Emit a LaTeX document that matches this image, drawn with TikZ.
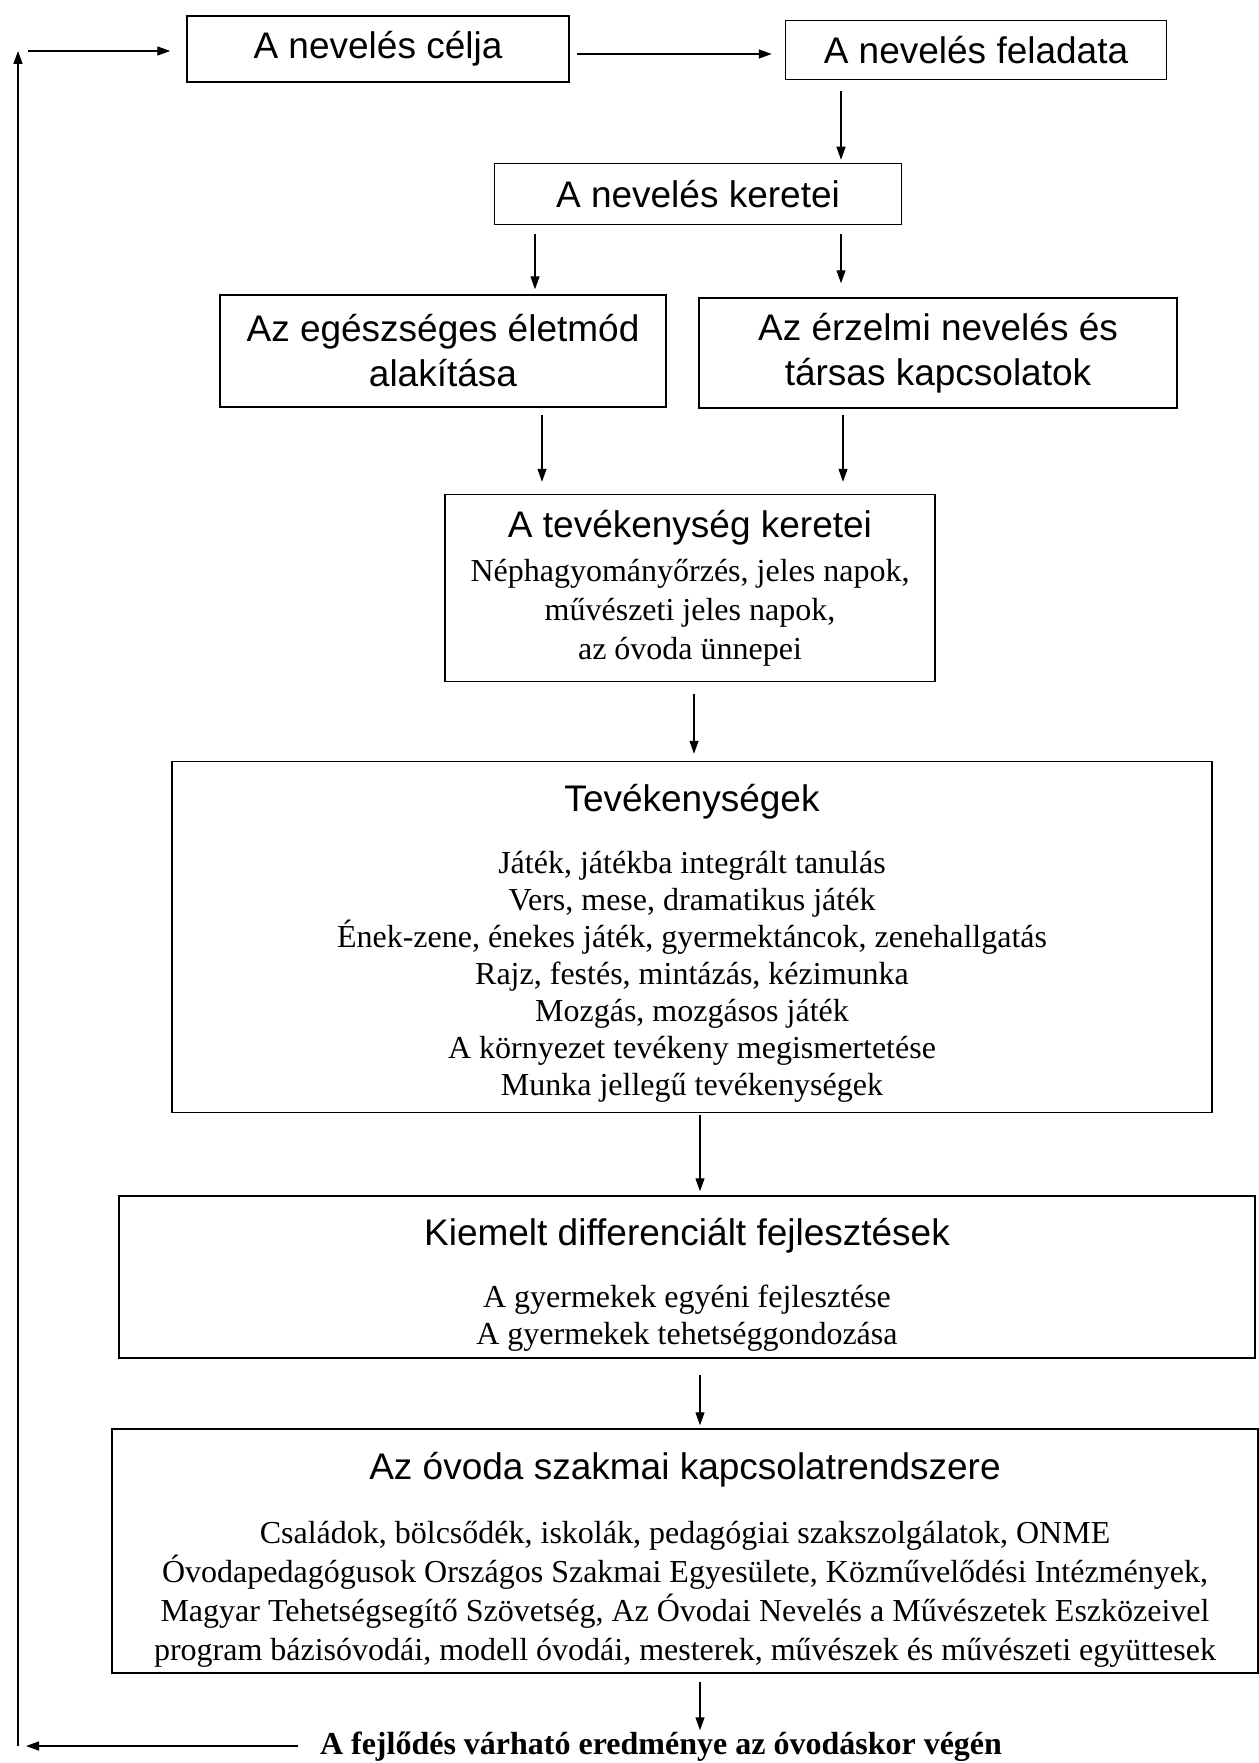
\documentclass[tikz,border=0pt]{standalone}
\usepackage{fontspec}
\setmainfont{Liberation Serif}
\newfontfamily\headfamily{Liberation Sans}
\usetikzlibrary{arrows.meta}

\newcommand{\headfont}{\headfamily\fontsize{37}{45}\selectfont}
\newcommand{\bodyfont}{\fontsize{32}{37}\selectfont}

\begin{document}
\begin{tikzpicture}[x=1pt, y=-1pt,
  box/.style={draw, line width=1.5pt, inner sep=0pt, align=center},
  headbox/.style={box, font=\headfont},
  boxtext/.style={inner sep=0pt, align=center, font=\bodyfont},
  arr/.style={-{Triangle[length=13pt,width=9pt]}, line width=1.3pt}]

\useasboundingbox (0,0) rectangle (1258,1763);

\node[headbox, minimum width=382pt, minimum height=66pt] (cel) at (378,49) {A nevelés célja};
\node[headbox, minimum width=381pt, minimum height=59pt] (feladat) at (976,50) {A nevelés feladata};
\node[headbox, minimum width=407pt, minimum height=61pt] (keret) at (698,194) {A nevelés keretei};

\node[headbox, minimum width=446pt, minimum height=112pt] (eletmod) at (443,351) {Az egészséges életmód\\alakítása};
\node[headbox, minimum width=478pt, minimum height=110pt] (erzelmi) at (938,353) {Az érzelmi nevelés és\\társas kapcsolatok};

% boxes with a heading and a list
\node[box, minimum width=490pt, minimum height=187pt] (tevker) at (690,588) {};
\node[boxtext, font=\fontsize{32}{39}\selectfont] (tevkertxt) at (tevker.center) {{\headfont A tevékenység keretei}\\[5pt]
  Néphagyományőrzés, jeles napok,\\művészeti jeles napok,\\az óvoda ünnepei};

\node[box, minimum width=1040pt, minimum height=351pt] (tev) at (692,937) {};
\node[boxtext, yshift=-6pt] (tevtxt) at (tev.center) {{\headfont Tevékenységek}\\[25pt]
  Játék, játékba integrált tanulás\\
  Vers, mese, dramatikus játék\\
  Ének-zene, énekes játék, gyermektáncok, zenehallgatás\\
  Rajz, festés, mintázás, kézimunka\\
  Mozgás, mozgásos játék\\
  A környezet tevékeny megismertetése\\
  Munka jellegű tevékenységek};

\node[box, minimum width=1136pt, minimum height=162pt] (kiemelt) at (687,1277) {};
\node[boxtext, yshift=-8pt] (kiemelttxt) at (kiemelt.center) {{\headfont Kiemelt differenciált fejlesztések}\\[25pt]
  A gyermekek egyéni fejlesztése\\
  A gyermekek tehetséggondozása};

\node[box, minimum width=1146pt, minimum height=244pt] (kapcs) at (685,1551) {};
\node[boxtext, font=\fontsize{32}{39}\selectfont, yshift=-9pt] (kapcstxt) at (kapcs.center) {{\headfont Az óvoda szakmai kapcsolatrendszere}\\[25pt]
  Családok, bölcsődék, iskolák, pedagógiai szakszolgálatok, ONME\\
  Óvodapedagógusok Országos Szakmai Egyesülete, Közművelődési Intézmények,\\
  Magyar Tehetségsegítő Szövetség, Az Óvodai Nevelés a Művészetek Eszközeivel\\
  program bázisóvodái, modell óvodái, mesterek, művészek és művészeti együttesek};

\node[font=\bfseries\fontsize{32}{37}\selectfont, inner sep=0pt, anchor=base] (eredmeny) at (661,1754) {A fejlődés várható eredménye az óvodáskor végén};

% feedback loop
\coordinate (loopbot) at (18,1746);
\coordinate (looptop) at (18,51);
\coordinate (loopstart) at (28,51);
\coordinate (loopend) at (26,1746);

\draw[arr] (loopbot) -- (looptop);
\draw[arr, shorten >=16pt] (loopstart) -- (loopstart -| cel.west);
\draw[arr, shorten <=22pt] (eredmeny.west |- loopend) -- (loopend);

% main flow
\draw[arr, shorten <=7pt, shorten >=13pt] (cel.east |- 0,54) -- (feladat.west |- 0,54);
\draw[arr, shorten <=11pt, shorten >=3pt] (841,0 |- feladat.south) -- (841,0 |- keret.north);
\draw[arr, shorten <=9pt, shorten >=5pt] (535,0 |- keret.south) -- (535,0 |- eletmod.north);
\draw[arr, shorten <=9pt, shorten >=14pt] (841,0 |- keret.south) -- (841,0 |- erzelmi.north);
\draw[arr, shorten <=7pt, shorten >=12pt] (542,0 |- eletmod.south) -- (542,0 |- tevker.north);
\draw[arr, shorten <=6pt, shorten >=12pt] (843,0 |- erzelmi.south) -- (843,0 |- tevker.north);
\draw[arr, shorten <=12pt, shorten >=7pt] (694,0 |- tevker.south) -- (694,0 |- tev.north);
\draw[arr, shorten <=2pt, shorten >=4pt] (700,0 |- tev.south) -- (700,0 |- kiemelt.north);
\draw[arr, shorten <=16pt, shorten >=3pt] (700,0 |- kiemelt.south) -- (700,0 |- kapcs.north);
\draw[arr, shorten <=8pt, shorten >=1pt] (700,0 |- kapcs.south) -- (700,0 |- eredmeny.north);
\end{tikzpicture}
\end{document}
